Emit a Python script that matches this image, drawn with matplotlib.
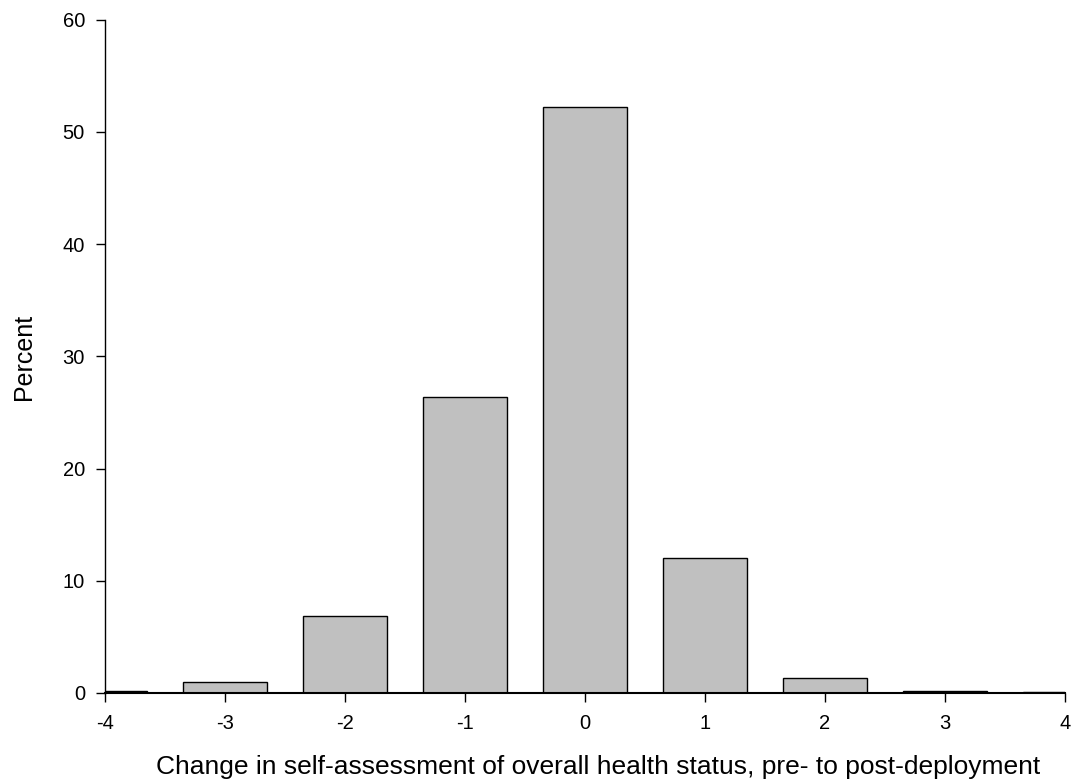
import matplotlib
matplotlib.use("Agg")
import matplotlib.pyplot as plt

plt.rcParams["font.family"] = ["Liberation Sans", "DejaVu Sans"]

# change in self-rated health (post minus pre) and share of respondents
change = [-4, -3, -2, -1, 0, 1, 2, 3, 4]
percent = [0.2, 1.0, 6.9, 26.4, 52.2, 12.0, 1.3, 0.15, 0.1]

fig = plt.figure(figsize=(10.75, 7.81), dpi=100)
ax = fig.add_axes([0.0977, 0.1127, 0.893, 0.862])

ax.bar(change, percent, width=0.7, color="#c0c0c0", edgecolor="black", linewidth=1.0)

ax.set_xlim(-4, 4)
ax.set_ylim(0, 60)
ax.set_xticks(change)
ax.set_xticklabels([str(c) for c in change])
ax.set_yticks(range(0, 61, 10))

for side in ("top", "right"):
    ax.spines[side].set_visible(False)
ax.spines["left"].set_linewidth(1.0)
ax.spines["bottom"].set_linewidth(1.5)
ax.tick_params(direction="out", length=6.5, width=1.0, labelsize=14.5)
ax.tick_params(axis="x", pad=8.5)
ax.tick_params(axis="y", pad=8)

# axis titles placed in figure coordinates
fig.text(598 / 1075, 1 - 774 / 781,
         "Change in self-assessment of overall health status, pre- to post-deployment",
         fontsize=19, ha="center", va="baseline")
fig.text(24 / 1075, 1 - 357 / 781, "Percent", fontsize=18,
         rotation=90, ha="center", va="center")

fig.savefig("out.png", dpi=100)
